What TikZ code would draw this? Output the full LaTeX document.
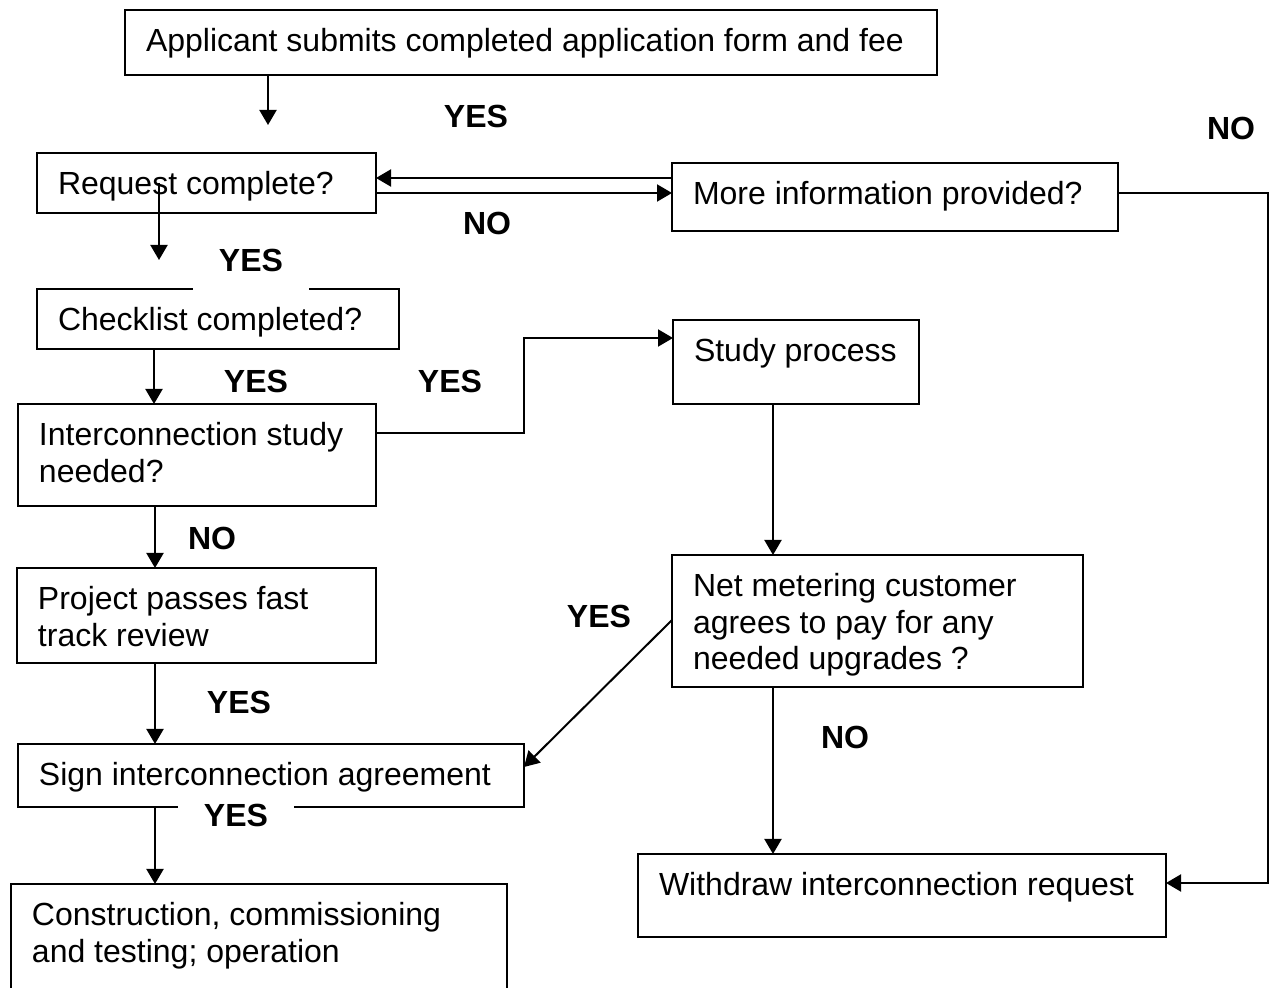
\documentclass[tikz,border=0pt]{standalone}
\usepackage{fontspec}
\setmainfont{Liberation Sans}
\usetikzlibrary{arrows.meta,calc}
\newcommand{\boxtext}[3]{\parbox[c][#2][t]{#1}{\raggedright\vspace*{8pt}\strut #3}}

\begin{document}
\begin{tikzpicture}[x=0.5pt, y=-0.5pt, line width=1pt,
        flowbox/.style={draw, rectangle, anchor=north west, inner xsep=10.5pt, inner ysep=0pt, outer sep=0pt},
        answer/.style={font=\bfseries, inner sep=0pt},
        cover/.style={answer, fill=white, minimum width=58pt},
        arr/.style={-{Triangle[length=7.5pt,width=8.5pt]}}]
            \fontsize{16}{18.3}\selectfont
            \useasboundingbox (0,0) rectangle (1270,988);

            \node[flowbox] (apply) at (125,10) {\boxtext{385pt}{32.5pt}{Applicant submits completed application form and fee}};
            \node[flowbox] (req) at (37,153) {\boxtext{148.5pt}{30pt}{Request complete?}};
            \node[flowbox] (info) at (672,163) {\boxtext{202pt}{34pt}{More information provided?}};
            \node[flowbox] (check) at (37,289) {\boxtext{160pt}{30pt}{Checklist completed?}};
            \node[flowbox] (study) at (673,320) {\boxtext{102pt}{42pt}{Study~process}};
            \node[flowbox] (need) at (18,404) {\boxtext{158pt}{51pt}{Interconnection study\\needed?}};
            \node[flowbox] (fast) at (17,568) {\boxtext{158.5pt}{47.5pt}{Project passes fast\\track review}};
            \node[flowbox] (netm) at (672,555) {\boxtext{184.5pt}{66pt}{Net metering customer\\agrees to pay for any\\needed upgrades ?}};
            \node[flowbox] (sign) at (18,744) {\boxtext{232pt}{31.5pt}{Sign interconnection agreement}};
            \node[flowbox] (build) at (11,884) {\boxtext{227pt}{75pt}{Construction, commissioning\\and testing; operation}};
            \node[flowbox] (wdraw) at (638,854) {\boxtext{243pt}{41.5pt}{Withdraw interconnection request}};

            \node[answer] (yes1) at (476,116) {YES};
            \node[answer] (no1) at (1231,128) {NO};
            \node[answer] (no2) at (487,223) {NO};
            \node[cover, minimum height=33pt] (yes2) at (251,260) {YES};
            \node[answer] (yes3) at (256,381) {YES};
            \node[answer] (yes4) at (450,381) {YES};
            \node[answer] (no3) at (212,538) {NO};
            \node[answer] (yes5) at (599,616) {YES};
            \node[answer] (yes6) at (239,702) {YES};
            \node[answer] (no4) at (845,737) {NO};
            \node[cover, minimum height=20pt] (yes7) at (236,815) {YES};

            \coordinate (reqtip) at (268,125);
            \draw[arr] (apply.south -| reqtip) -- (reqtip);
            \coordinate (infoback) at ($(info.north west)+(0,15)$);
            \coordinate (infofwd) at ($(info.north west)+(0,30)$);
            \draw[arr] (infoback) -- (infoback -| req.east);
            \draw[arr] (infofwd -| req.east) -- (infofwd);
            \coordinate (reqyes) at (159,260);
            \draw[arr] (req.center -| reqyes) -- (reqyes);
            \coordinate (c1) at ($(check.south west)+(117,0)$);
            \draw[arr] (c1) -- (c1 |- need.north);
            \draw[arr] ($(need.north east)+(0,29)$) -- ++(148,0) |- ($(study.north west)+(0,18)$);
            \coordinate (n1) at ($(need.south west)+(137,0)$);
            \draw[arr] (n1) -- (n1 |- fast.north);
            \coordinate (f1) at ($(fast.south west)+(138,0)$);
            \draw[arr] (f1) -- (f1 |- sign.north);
            \coordinate (s1) at ($(sign.south west)+(137,0)$);
            \draw[arr] (s1) -- (s1 |- build.north);
            \coordinate (st1) at ($(study.south west)+(100,0)$);
            \draw[arr] (st1) -- (st1 |- netm.north);
            \draw[arr] ($(netm.north west)+(0,65)$) -- ($(sign.north east)+(0,23)$);
            \coordinate (nm1) at ($(netm.south west)+(101,0)$);
            \draw[arr] (nm1) -- (nm1 |- wdraw.north);
            \draw[arr] ($(info.north east)+(0,30)$) -- ++(150,0) |- ($(wdraw.north east)+(0,29)$);
        \end{tikzpicture}
\end{document}
